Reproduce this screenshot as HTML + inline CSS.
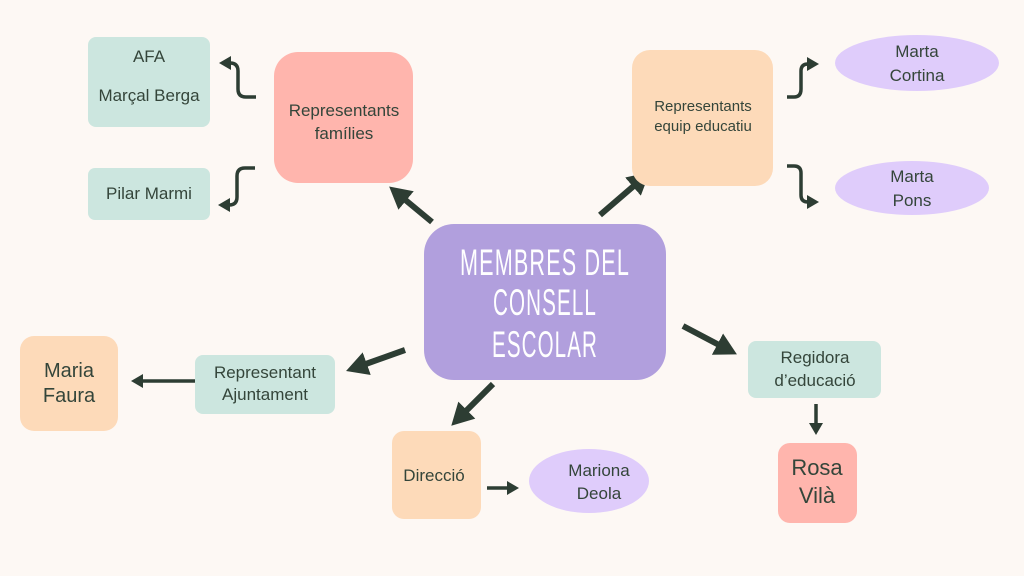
<!DOCTYPE html>
<html><head><meta charset="utf-8"><style>
html,body{margin:0;padding:0;background:#fdf8f4;}
svg{display:block}
text{font-family:"Liberation Sans",sans-serif;fill:#34453a;}
</style></head><body>
<svg width="1024" height="576" viewBox="0 0 1024 576" xmlns="http://www.w3.org/2000/svg">
<defs>
<marker id="h" markerUnits="userSpaceOnUse" markerWidth="26" markerHeight="26" refX="4" refY="13" orient="auto"><path d="M0,1 L22,13 L0,25 Z" fill="#2d3d33"/></marker>
<marker id="s" markerUnits="userSpaceOnUse" markerWidth="14" markerHeight="14" refX="3" refY="7" orient="auto"><path d="M0,0 L12,7 L0,14 Z" fill="#2d3d33"/></marker>
</defs>
<rect width="1024" height="576" fill="#fdf8f4"/>
<g fill="none" stroke="#2d3d33" stroke-width="6">
<line x1="432" y1="222" x2="403" y2="198" marker-end="url(#h)"/>
<line x1="600" y1="215" x2="636" y2="184" marker-end="url(#h)"/>
<line x1="405" y1="350" x2="363" y2="365" marker-end="url(#h)"/>
<line x1="493" y1="384" x2="464" y2="413" marker-end="url(#h)"/>
<line x1="683" y1="326" x2="721" y2="346" marker-end="url(#h)"/>
</g>
<g fill="none" stroke="#2d3d33" stroke-width="3.5">
<line x1="196" y1="381" x2="140" y2="381" marker-end="url(#s)"/>
<line x1="487" y1="488" x2="510" y2="488" marker-end="url(#s)"/>
<line x1="816" y1="404" x2="816" y2="426" marker-end="url(#s)"/>
<path d="M256 97 H246 Q238 97 238 89 V71 Q238 63 230 63 H228" marker-end="url(#s)"/>
<path d="M255 168 H245 Q237 168 237 176 V197 Q237 205 229 205 H227" marker-end="url(#s)"/>
<path d="M787 97 H794 Q801 97 801 89 V71 Q801 64 808 64 H810" marker-end="url(#s)"/>
<path d="M787 166 H794 Q801 166 801 173 V195 Q801 202 808 202 H810" marker-end="url(#s)"/>
</g>
<rect x="88" y="37" width="122" height="90" rx="8" fill="#cce6df"/>
<rect x="88" y="168" width="122" height="52" rx="7" fill="#cce6df"/>
<rect x="274" y="52" width="139" height="131" rx="24" fill="#ffb5ad"/>
<rect x="424" y="224" width="242" height="156" rx="30" fill="#b19fdd"/>
<rect x="632" y="50" width="141" height="136" rx="18" fill="#fddab9"/>
<ellipse cx="917" cy="63" rx="82" ry="28" fill="#dfccfb"/>
<ellipse cx="912" cy="188" rx="77" ry="27" fill="#dfccfb"/>
<rect x="20" y="336" width="98" height="95" rx="14" fill="#fddab9"/>
<rect x="195" y="355" width="140" height="59" rx="8" fill="#cce6df"/>
<rect x="392" y="431" width="89" height="88" rx="12" fill="#fddab9"/>
<ellipse cx="589" cy="481" rx="60" ry="32" fill="#dfccfb"/>
<rect x="748" y="341" width="133" height="57" rx="8" fill="#cce6df"/>
<rect x="778" y="443" width="79" height="80" rx="12" fill="#ffb5ad"/>
<g text-anchor="middle" font-size="17">
<text x="149" y="62">AFA</text>
<text x="149" y="101">Marçal Berga</text>
<text x="149" y="199">Pilar Marmi</text>
<text x="344" y="116">Representants</text>
<text x="344" y="139">famílies</text>
<text x="703" y="111" font-size="15">Representants</text>
<text x="703" y="131" font-size="15">equip educatiu</text>
<text x="917" y="57">Marta</text>
<text x="917" y="81">Cortina</text>
<text x="912" y="182">Marta</text>
<text x="912" y="206">Pons</text>
<text x="69" y="377" font-size="20">Maria</text>
<text x="69" y="402" font-size="20">Faura</text>
<text x="265" y="378">Representant</text>
<text x="265" y="400">Ajuntament</text>
<text x="434" y="481">Direcció</text>
<text x="599" y="476">Mariona</text>
<text x="599" y="499">Deola</text>
<text x="815" y="363">Regidora</text>
<text x="815" y="386">d’educació</text>
<text x="817" y="475" font-size="22">Rosa</text>
<text x="817" y="503" font-size="22">Vilà</text>
</g>
<g text-anchor="middle" font-family="'Liberation Sans Narrow','Liberation Sans',sans-serif" font-size="37" style="fill:#fff" letter-spacing="2">
<text x="545" y="275" style="fill:#fff" textLength="170" lengthAdjust="spacingAndGlyphs">MEMBRES DEL</text>
<text x="545" y="315" style="fill:#fff" textLength="104" lengthAdjust="spacingAndGlyphs">CONSELL</text>
<text x="545" y="357" style="fill:#fff" textLength="106" lengthAdjust="spacingAndGlyphs">ESCOLAR</text>
</g>
</svg>
</body></html>
